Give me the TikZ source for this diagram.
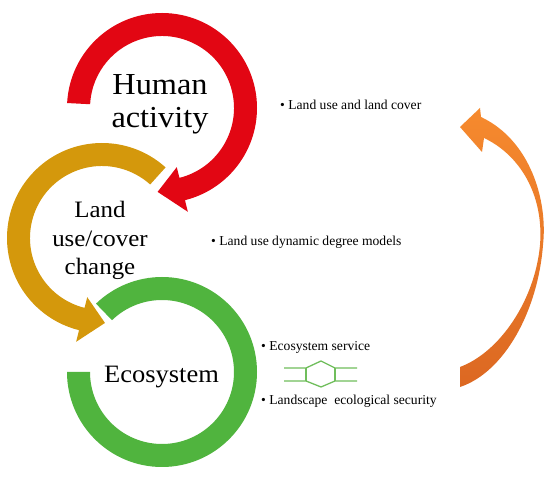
\documentclass[tikz,border=0pt]{standalone}
\usepackage{fontspec}
\setmainfont{Liberation Serif}
\newfontfamily\widefont[FakeStretch=1.06]{Liberation Serif}
\usetikzlibrary{calc}
\definecolor{redc}{RGB}{226,6,19}
\definecolor{goldc}{RGB}{212,152,12}
\definecolor{greenc}{RGB}{80,180,62}
\definecolor{orangeT}{RGB}{246,138,46}
\definecolor{orangeB}{RGB}{220,104,34}
\definecolor{linegreen}{RGB}{112,190,92}
\begin{document}
\begin{tikzpicture}[x=1pt,y=1pt,
  bigtxt/.style={font=\widefont\fontsize{30.5}{33}\selectfont, inner sep=0pt},
  midtxt/.style={font=\widefont\fontsize{23.5}{28}\selectfont, inner sep=0pt},
  ecotxt/.style={font=\widefont\fontsize{25}{28}\selectfont, inner sep=0pt},
  smalltxt/.style={font=\fontsize{13.6}{15}\selectfont, inner sep=0pt, anchor=base west}]
\useasboundingbox (0,0) rectangle (550,-478);
\fill[white] (0,0) rectangle (550,-478);
\coordinate (cr) at (162,-108);
\coordinate (cg) at (102,-238);
\coordinate (ce) at (162,-372);
% red ring arrow
\fill[redc] ($(cr)+(177:95)$) arc[start angle=177,end angle=-76,radius=95]
  -- ($(cr)+(-76:107)$) -- ($(cr)+(-93:84)$) -- ($(cr)+(-76:61)$)
  -- ($(cr)+(-76:72)$) arc[start angle=-76,end angle=177,radius=72] -- cycle;
% golden ring arrow
\fill[goldc] ($(cg)+(48:95)$) arc[start angle=48,end angle=256,radius=95]
  -- ($(cg)+(256:107)$) -- ($(cg)+(272:85)$) -- ($(cg)+(256:61)$)
  -- ($(cg)+(256:72)$) arc[start angle=256,end angle=48,radius=72] -- cycle;
% green ring
\fill[greenc] ($(ce)+(180:95)$) arc[start angle=180,end angle=494,radius=95]
  -- ($(ce)+(494:72)$) arc[start angle=494,end angle=180,radius=72] -- cycle;
% orange curved arrow
\shade[top color=orangeT,bottom color=orangeB]
  (481,-117) .. controls (530,-140) and (548,-200) .. (543,-245)
  .. controls (538,-310) and (505,-372) .. (460,-387)
  -- (460,-367) .. controls (500,-352) and (535,-300) .. (540,-245)
  .. controls (544,-195) and (520,-155) .. (484,-138)
  -- (482,-152) -- (460,-127) -- (480,-108) -- cycle;
% double arrow outline
\draw[linegreen, line width=1.3pt, line join=round]
  (284,-368) -- (306,-368) -- (321,-361) -- (335,-368) -- (357,-368);
\draw[linegreen, line width=1.3pt, line join=round]
  (284,-381) -- (306,-381) -- (321,-387) -- (335,-381) -- (357,-381);
\draw[linegreen, line width=1.3pt] (306,-368) -- (306,-381);
\draw[linegreen, line width=1.3pt] (335,-368) -- (335,-381);
% texts
\node[bigtxt, anchor=base] (h1) at (160,-95) {Human};
\node[bigtxt, anchor=base] (h2) at (160,-128) {activity};
\node[midtxt, anchor=base] (l1) at (100,-218) {Land};
\node[midtxt, anchor=base] (l2) at (100,-247) {use/cover};
\node[midtxt, anchor=base] (l3) at (100,-275) {change};
\node[ecotxt, anchor=base] (eco) at (161.5,-383) {Ecosystem};
\node[smalltxt] (t1) at (280,-110) {\textbullet\ Land use and land cover};
\node[smalltxt] (t2) at (211,-246) {\textbullet\ Land use dynamic degree models};
\node[smalltxt] (t3) at (261,-351) {\textbullet\ Ecosystem service};
\node[smalltxt] (t4) at (261,-405) {\textbullet\ Landscape\ \ ecological security};
\end{tikzpicture}
\end{document}
